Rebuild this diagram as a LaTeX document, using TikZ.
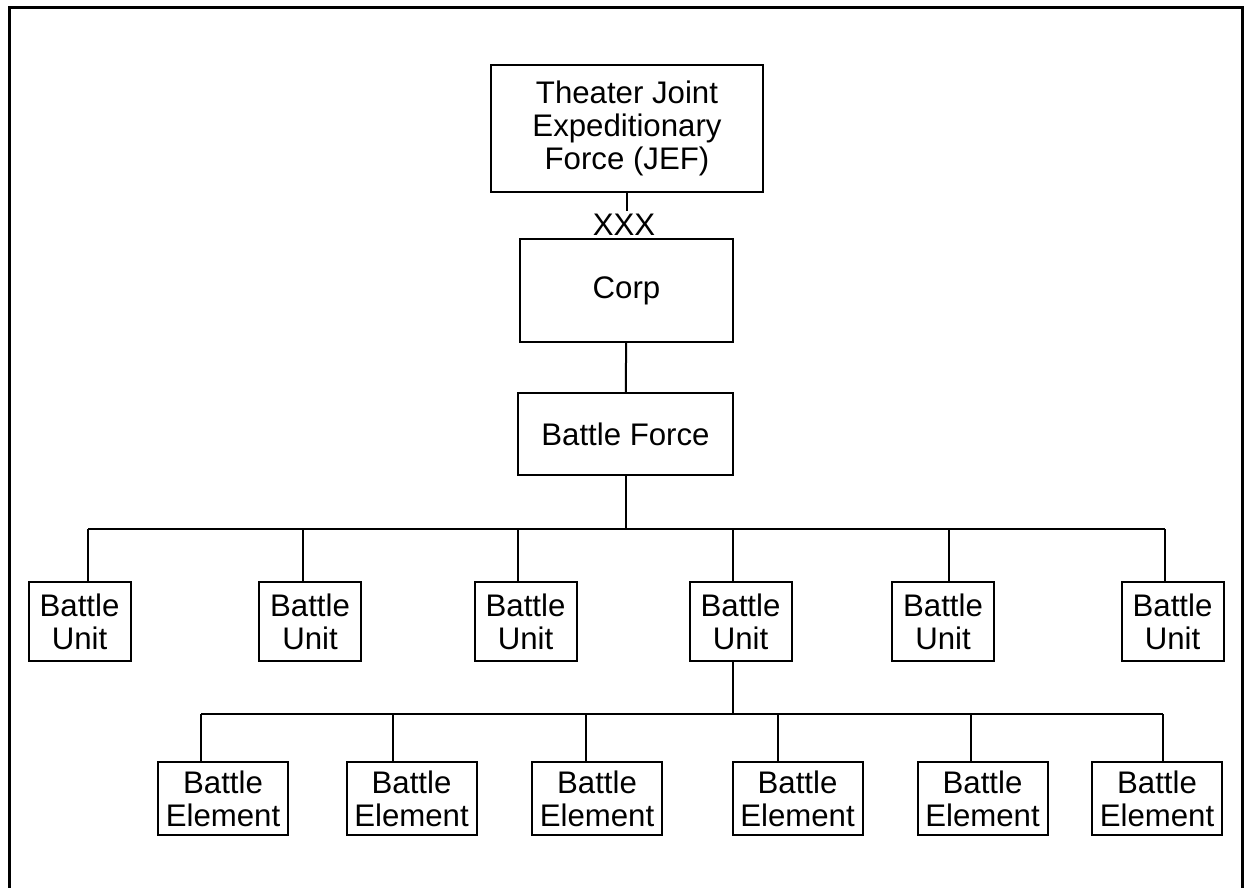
\documentclass[tikz,border=0pt]{standalone}
\usepackage{fontspec}
\setmainfont{Liberation Sans}
\tikzset{
  orgbox/.style={
    draw,
    line width=1pt,
    align=center,
    inner sep=0pt,
    font=\fontsize{15.6}{16.5}\selectfont
  },
  unitbox/.style={orgbox,minimum width=51pt,minimum height=39.5pt},
  elembox/.style={orgbox,minimum width=65pt,minimum height=36.5pt},
  orgline/.style={line width=1pt}
}

\begin{document}
\begin{tikzpicture}[x=0.5pt,y=-0.5pt]
  \useasboundingbox (0,0) rectangle (1244,888);
  \draw[line width=1.5pt] (9,888) -- (9,8) -- (1242,8) -- (1242,888);
  % top of the chain
  \node[orgbox,minimum width=136pt,minimum height=63.5pt] (jef) at (627,128.5)
    {Theater Joint\\Expeditionary\\Force (JEF)};
  \node[font=\fontsize{15.6}{16.5}\selectfont,inner sep=1pt] (xxx) at (624,224.5) {XXX};
  \node[orgbox,minimum width=106.5pt,minimum height=51.5pt] (corp) at (626.5,290.5) {Corp};
  \node[orgbox,minimum width=107.5pt,minimum height=41pt] (bforce) at (625.5,434) {Battle Force};
  \draw[orgline] (jef.south) -- (jef.south |- xxx.north);
  \draw[orgline] (corp) -- (bforce);
  % battle units
  \foreach \i/\bx/\lx in {1/79.5/88, 2/310/303, 3/525.5/518, 4/740.5/733, 5/943/949, 6/1172.5/1165} {
    \node[unitbox] (bu\i) at (\bx,621.5) {Battle\\Unit};
    \coordinate (ub\i) at (\lx,529);
    \draw[orgline] (ub\i) -- (ub\i |- bu\i.north);
  }
  \draw[orgline] (ub1) -- (ub6);
  \draw[orgline] (bforce) -- (bforce.south |- ub1);
  % battle elements
  \foreach \i/\bx/\lx in {1/223/201, 2/411.5/393, 3/597/586, 4/797.5/778, 5/982.5/971, 6/1157/1163} {
    \node[elembox] (be\i) at (\bx,798.5) {Battle\\Element};
    \coordinate (eb\i) at (\lx,714);
    \draw[orgline] (eb\i) -- (eb\i |- be\i.north);
  }
  \draw[orgline] (eb1) -- (eb6);
  \coordinate (ejoin) at (733,714);
  \draw[orgline] (ejoin |- bu4.south) -- (ejoin);
\end{tikzpicture}
\end{document}
